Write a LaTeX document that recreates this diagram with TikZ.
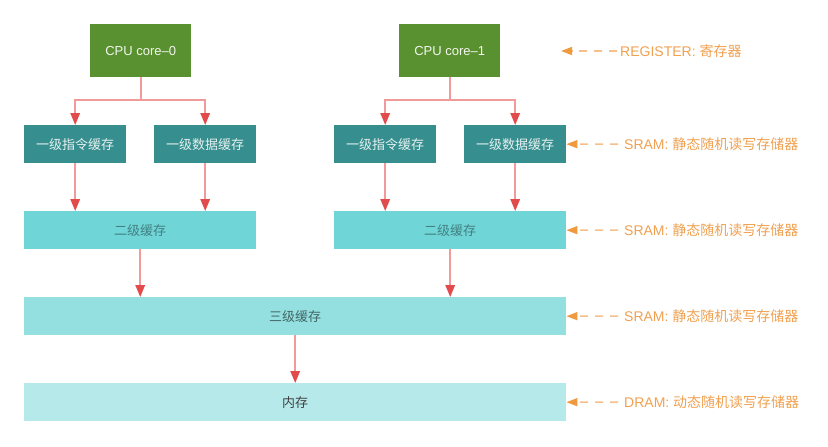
\documentclass[tikz,border=0pt]{standalone}
\usepackage{fontspec}
\setmainfont{Liberation Sans}
\newfontfamily\cjk{Noto Sans CJK SC}
\usetikzlibrary{arrows.meta}
\definecolor{cpugreen}{HTML}{599130}
\definecolor{lonecol}{HTML}{368F8E}
\definecolor{ltwocol}{HTML}{6FD5D6}
\definecolor{lthreecol}{HTML}{94E0E1}
\definecolor{memcol}{HTML}{B6EAEA}
\definecolor{redline}{HTML}{F09A9A}
\definecolor{redhead}{HTML}{E24B4B}
\definecolor{orangetxt}{HTML}{F0A050}
\definecolor{orangeline}{HTML}{F5C08A}
\definecolor{orangehead}{HTML}{EF9A3F}
\begin{document}
\begin{tikzpicture}[x=1pt,y=-1pt,
  box/.style={draw=none, inner sep=0pt, anchor=north west, minimum height=38pt,
    font=\fontsize{13}{15}\selectfont},
  cpubox/.style={box, fill=cpugreen, minimum width=101pt, minimum height=53pt, text=white!92!cpugreen},
  lonebox/.style={box, fill=lonecol, minimum width=102pt, text=white!88!lonecol},
  ltwobox/.style={box, fill=ltwocol, minimum width=232pt, text=black!40!ltwocol},
  lthreebox/.style={box, fill=lthreecol, minimum width=542pt, text=black!55!lthreecol},
  membox/.style={box, fill=memcol, minimum width=542pt, text=black!75},
  rarr/.style={draw=redline, line width=1.6pt, -{Triangle[length=12pt,width=9.5pt,color=redhead]}},
  rline/.style={draw=redline, line width=1.6pt},
  lbl/.style={text=orangetxt, anchor=west, inner sep=0pt, font=\fontsize{14}{16}\selectfont},
  oarr/.style={draw=orangeline, line width=1.5pt, dash pattern=on 8pt off 7pt,
    -{Triangle[length=11pt,width=8pt,color=orangehead]}}
]
\useasboundingbox (0,0) rectangle (828,447);

\node[cpubox] (cpu0) at (90,24) {CPU core–0};
\node[cpubox] (cpu1) at (399,24) {CPU core–1};

\node[lonebox] (l1i0) at (24,125) {\cjk 一级指令缓存};
\node[lonebox] (l1d0) at (154,125) {\cjk 一级数据缓存};
\node[lonebox] (l1i1) at (334,125) {\cjk 一级指令缓存};
\node[lonebox] (l1d1) at (464,125) {\cjk 一级数据缓存};

\node[ltwobox] (l20) at (24,211) {\cjk 二级缓存};
\node[ltwobox] (l21) at (334,211) {\cjk 二级缓存};

\node[lthreebox] (l3) at (24,297) {\cjk 三级缓存};
\node[membox] (mem) at (24,383) {\cjk 内存};

\coordinate (j0) at (cpu0.south |- 0,100);
\coordinate (j1) at (cpu1.south |- 0,100);
\draw[rline] (cpu0.south) -- (j0);
\draw[rline] (cpu1.south) -- (j1);
\draw[rarr] (j0) -| (l1i0.north);
\draw[rarr] (j0) -| (l1d0.north);
\draw[rarr] (j1) -| (l1i1.north);
\draw[rarr] (j1) -| (l1d1.north);

\draw[rarr] (l1i0.south) -- (l1i0.south |- l20.north);
\draw[rarr] (l1d0.south) -- (l1d0.south |- l20.north);
\draw[rarr] (l1i1.south) -- (l1i1.south |- l21.north);
\draw[rarr] (l1d1.south) -- (l1d1.south |- l21.north);

\draw[rarr] (l20.south) -- (l20.south |- l3.north);
\draw[rarr] (l21.south) -- (l21.south |- l3.north);
\draw[rarr] (l3.south) -- (mem.north);

\node[lbl] (t0) at (620,51) {REGISTER: {\cjk 寄存器}};
\node[lbl] (t1) at (624,144) {SRAM: {\cjk 静态随机读写存储器}};
\node[lbl] (t2) at (624,230) {SRAM: {\cjk 静态随机读写存储器}};
\node[lbl] (t3) at (624,316) {SRAM: {\cjk 静态随机读写存储器}};
\node[lbl] (t4) at (624,402) {DRAM: {\cjk 动态随机读写存储器}};

\coordinate (r0) at (561,51);
\draw[oarr] ([xshift=-3pt]t0.west) -- (r0);
\draw[oarr] ([xshift=-6pt]t1.west) -- (l1d1.east);
\draw[oarr] ([xshift=-6pt]t2.west) -- (l21.east);
\draw[oarr] ([xshift=-6pt]t3.west) -- (l3.east);
\draw[oarr] ([xshift=-6pt]t4.west) -- (mem.east);
\end{tikzpicture}
\end{document}
